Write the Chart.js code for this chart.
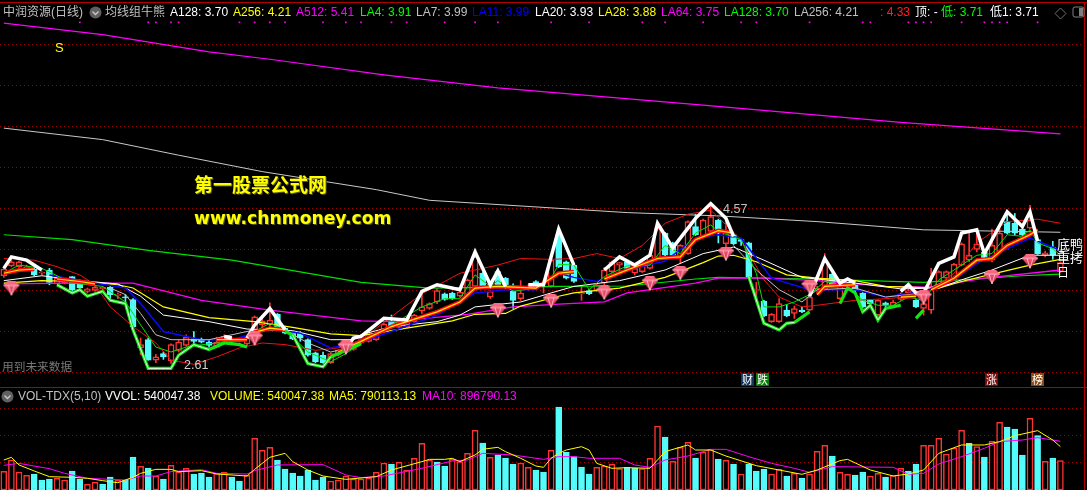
<!DOCTYPE html>
<html>
<head>
<meta charset="utf-8">
<script src="https://cdn.jsdelivr.net/npm/chart.js@4/dist/chart.umd.js"></script>
<style>
html, body { margin: 0; background: #000; overflow: hidden; }
#wrap { position: relative; width: 1087px; height: 490px; }
canvas { position: absolute; left: 0; top: 0; }
.t { position: absolute; white-space: nowrap; font: 12px "Liberation Sans", "Noto Sans CJK SC", sans-serif; line-height: 16px; }
.rule { position: absolute; background: #b00000; }
.badge { position: absolute; top: 373px; width: 13px; height: 13px; color: #fff; font: 11px/13px "Noto Sans CJK SC", sans-serif; text-align: center; }
.wm { position: absolute; color: #ffff00; font-weight: bold; white-space: nowrap; text-shadow: 1px 1px 0 #555500; }
svg { position: absolute; }
</style>
</head>
<body>
<div id="wrap">
<canvas id="chart" width="1087" height="490"></canvas>

<div class="rule" style="left:0;top:2px;width:1087px;height:1px"></div>
<div class="rule" style="left:0;top:387px;width:1087px;height:1px"></div>
<div class="rule" style="left:1084px;top:2px;width:1px;height:488px"></div>

<!-- header of the price panel -->
<div class="t" style="left:3px;top:4px;color:#c0c0c0">中润资源(日线)</div>
<svg style="left:89px;top:6px" width="13" height="13"><circle cx="6.5" cy="6.5" r="6" fill="#606060"/><path d="M3.5 5.5 L6.5 8.5 L9.5 5.5" stroke="#c8c8c8" stroke-width="1.4" fill="none"/></svg>
<div class="t" style="left:105px;top:4px;color:#c0c0c0">均线组牛熊</div>
<div class="t" style="left:170px;top:4px;color:#ffffff">A128: 3.70</div>
<div class="t" style="left:233px;top:4px;color:#ffff00">A256: 4.21</div>
<div class="t" style="left:296px;top:4px;color:#ff00ff">A512: 5.41</div>
<div class="t" style="left:360px;top:4px;color:#00ff00">LA4: 3.91</div>
<div class="t" style="left:416px;top:4px;color:#c0c0c0">LA7: 3.99</div>
<div class="t" style="left:472px;top:4px;color:#0000ff">LA11: 3.99</div>
<div class="t" style="left:535px;top:4px;color:#ffffff">LA20: 3.93</div>
<div class="t" style="left:598px;top:4px;color:#ffff00">LA28: 3.88</div>
<div class="t" style="left:661px;top:4px;color:#ff00ff">LA64: 3.75</div>
<div class="t" style="left:724px;top:4px;color:#00ff00">LA128: 3.70</div>
<div class="t" style="left:794px;top:4px;color:#c0c0c0">LA256: 4.21</div>
<div class="t" style="left:880px;top:4px;color:#ff2020">: 4.33</div>
<div class="t" style="left:915px;top:4px;color:#ffffff">顶: -</div>
<div class="t" style="left:941px;top:4px;color:#00ff00">低: 3.71</div>
<div class="t" style="left:990px;top:4px;color:#ffffff">低1: 3.71</div>
<svg style="left:1054px;top:7px" width="13" height="13"><path d="M6.5 1 L12 6.5 L6.5 12 L1 6.5 Z" stroke="#707070" fill="none"/></svg>
<svg style="left:1072px;top:6px" width="13" height="13"><rect x="1" y="1" width="11" height="10" rx="2" stroke="#808080" fill="none"/><rect x="7" y="2" width="4" height="8" fill="#808080"/></svg>

<div class="t" style="left:55px;top:40px;color:#ffff00;font-size:13px">S</div>
<div class="t" style="left:2px;top:359px;color:#787878;font-size:11.7px">用到未来数据</div>
<div class="t" style="left:184px;top:357px;color:#d0d0d0;font-size:12.5px">2.61</div>
<div class="t" style="left:723px;top:201px;color:#c0c0c0;font-size:12.5px">4.57</div>
<div class="t" style="left:1057px;top:238px;color:#fff;font-size:13px;line-height:13px">底鸭<br>重拷</div>
<div class="t" style="left:1057px;top:265px;color:#fff;font-size:12px">日</div>

<div class="wm" style="left:194px;top:171px;font:bold 19px 'Noto Sans CJK SC',sans-serif;line-height:26px">第一股票公式网</div>
<div class="wm" style="left:194px;top:206px;font:bold 17.2px 'DejaVu Sans',sans-serif;line-height:24px">www.chnmoney.com</div>

<div class="badge" style="left:741px;background:#12365e">财</div>
<div class="badge" style="left:756px;background:#0a7a0a">跌</div>
<div class="badge" style="left:985px;background:#7a0a0a">涨</div>
<div class="badge" style="left:1031px;background:#8a4a10">榜</div>

<!-- header of the volume panel -->
<svg style="left:1px;top:390px" width="13" height="13"><circle cx="6.5" cy="6.5" r="6" fill="#606060"/><path d="M3.5 5.5 L6.5 8.5 L9.5 5.5" stroke="#c8c8c8" stroke-width="1.4" fill="none"/></svg>
<div class="t" style="left:18px;top:388px;color:#c0c0c0">VOL-TDX(5,10)</div>
<div class="t" style="left:105px;top:388px;color:#ffffff">VVOL: 540047.38</div>
<div class="t" style="left:210px;top:388px;color:#ffff00">VOLUME: 540047.38</div>
<div class="t" style="left:329px;top:388px;color:#ffff00">MA5: 790113.13</div>
<div class="t" style="left:422px;top:388px;color:#ff00ff">MA10: 896790.13</div>
</div>

<script>
// one slot per trading day, the last few slots stay empty on the right
const sessions = Array.from({ length: 143 }, (_, i) => i);

const open = [3.68,3.80,3.79,3.76,3.76,3.71,3.75,3.58,3.59,3.67,3.62,3.49,3.50,3.52,3.54,3.44,3.42,3.39,2.80,2.90,
  2.65,2.73,2.64,2.77,2.83,2.91,2.90,2.87,2.81,2.92,2.91,2.88,2.85,3.02,3.08,3.09,3.21,3.04,2.99,2.98,
  2.90,2.74,2.71,2.62,2.71,2.76,2.78,2.86,2.88,2.90,3.00,3.12,3.05,3.06,3.12,3.25,3.28,3.36,3.46,3.47,
  3.43,3.43,3.55,3.71,3.42,3.73,3.65,3.49,3.40,3.53,3.61,3.54,3.55,4.18,3.85,3.81,3.46,3.50,3.50,3.59,
  3.73,3.81,3.85,3.71,3.73,3.77,3.89,4.20,4.08,3.91,3.95,4.28,4.16,4.22,4.36,4.07,4.18,4.12,4.08,3.50,
  3.37,3.12,3.12,3.26,3.22,3.26,3.26,3.50,3.51,3.70,3.40,3.55,3.57,3.47,3.38,3.20,3.35,3.30,3.39,3.47,
  3.38,3.28,3.26,3.55,3.65,3.63,3.81,3.87,4.00,3.97,3.87,3.97,4.34,4.32,4.25,4.26,4.12,3.93,4.03,3.73];
const close = [3.76,3.85,3.85,3.79,3.69,3.71,3.60,3.65,3.65,3.51,3.53,3.52,3.54,3.54,3.45,3.44,3.41,3.06,2.84,2.65,
  2.69,2.69,2.84,2.87,2.93,2.88,2.87,2.83,2.87,2.94,2.88,2.90,2.92,3.18,3.13,3.14,3.06,2.98,2.91,2.92,
  2.71,2.63,2.62,2.73,2.77,2.82,2.84,2.90,2.93,2.96,3.09,3.06,3.12,3.16,3.20,3.30,3.34,3.50,3.39,3.40,
  3.48,3.63,3.91,3.55,3.49,3.55,3.53,3.38,3.47,3.55,3.55,3.54,3.87,3.79,3.65,3.61,3.46,3.46,3.57,3.75,
  3.85,3.84,3.77,3.77,3.81,3.93,4.26,3.93,3.93,4.05,4.34,4.18,4.36,4.40,4.20,4.22,4.07,4.10,3.67,3.50,
  3.19,3.21,3.34,3.19,3.28,3.24,3.42,3.53,3.85,3.57,3.56,3.57,3.50,3.30,3.34,3.38,3.32,3.36,3.46,3.50,
  3.30,3.34,3.55,3.73,3.73,3.82,4.07,3.93,4.07,3.89,4.05,4.20,4.20,4.20,4.18,4.36,3.95,3.96,3.93,3.84];
const high = [3.78,3.87,3.86,3.81,3.78,3.73,3.77,3.66,3.66,3.67,3.63,3.53,3.55,3.55,3.56,3.47,3.45,3.40,2.92,2.92,
  2.72,2.75,2.85,2.89,2.96,3.00,2.92,2.90,2.93,2.96,2.92,2.92,2.93,3.19,3.15,3.35,3.22,3.05,3.00,3.00,
  2.91,2.75,2.75,2.74,2.78,2.84,2.85,2.91,2.94,2.97,3.10,3.20,3.13,3.17,3.21,3.49,3.35,3.52,3.47,3.48,
  3.49,3.64,3.93,3.72,3.50,3.74,3.66,3.58,3.62,3.57,3.62,3.62,3.89,4.25,3.86,3.82,3.55,3.51,3.58,3.78,
  3.86,3.84,3.86,3.79,3.82,3.95,4.28,4.21,4.09,4.06,4.35,4.43,4.37,4.57,4.37,4.40,4.19,4.12,4.09,3.60,
  3.38,3.22,3.40,3.33,3.31,3.30,3.44,3.55,3.95,3.71,3.58,3.60,3.58,3.48,3.39,3.39,3.36,3.38,3.47,3.52,
  3.39,3.46,3.77,3.74,3.74,3.83,4.08,4.20,4.23,3.98,4.25,4.30,4.48,4.44,4.26,4.54,4.13,3.98,4.10,3.85];
const low = [3.66,3.79,3.78,3.75,3.68,3.69,3.57,3.58,3.58,3.49,3.52,3.47,3.49,3.51,3.38,3.40,3.35,3.05,2.72,2.65,
  2.62,2.66,2.61,2.75,2.82,2.86,2.86,2.81,2.80,2.89,2.87,2.87,2.83,2.85,3.05,3.05,3.04,2.97,2.90,2.88,
  2.70,2.62,2.61,2.61,2.70,2.74,2.77,2.85,2.87,2.89,2.99,3.04,3.04,3.05,3.11,3.22,3.27,3.34,3.38,3.39,
  3.42,3.42,3.53,3.54,3.40,3.54,3.52,3.28,3.38,3.50,3.54,3.47,3.54,3.78,3.64,3.60,3.38,3.45,3.49,3.42,
  3.72,3.70,3.76,3.69,3.72,3.76,3.88,3.92,3.92,3.83,3.94,4.17,4.15,4.20,4.08,4.00,4.06,4.05,3.66,3.36,
  3.18,3.11,3.11,3.18,3.16,3.23,3.25,3.48,3.50,3.56,3.39,3.53,3.48,3.29,3.31,3.19,3.30,3.29,3.38,3.45,
  3.29,3.20,3.22,3.54,3.63,3.62,3.80,3.85,3.97,3.87,3.85,3.95,4.19,4.18,4.17,4.25,3.94,3.91,3.88,3.72];

// volume in thousands, 1 = red (up) bar, 0 = cyan bar
const volume = [342,549,329,268,293,183,201,214,183,348,201,104,140,110,238,177,177,604,433,403,
  256,201,451,329,397,293,311,238,305,323,238,165,268,946,726,781,549,384,311,256,
  366,183,238,165,183,256,201,201,220,323,494,476,506,366,580,854,549,512,439,561,
  519,671,1092,860,598,641,586,476,494,415,366,329,726,1519,689,610,421,293,415,439,
  470,390,415,403,390,580,1171,970,525,781,872,586,695,744,567,543,476,293,476,348,
  384,293,378,256,305,220,293,708,817,622,323,287,275,329,256,305,238,262,397,348,
  476,817,817,946,659,769,1092,854,793,604,891,1238,1153,1116,641,1312,994,525,586,540];
const volumeUp = [1,1,1,1,0,0,0,1,1,0,0,1,1,0,0,1,0,0,1,0,
  1,0,1,1,1,0,0,0,1,1,0,0,1,1,1,1,0,0,0,0,
  0,0,0,1,1,1,1,1,1,1,1,0,1,1,1,1,1,0,0,1,
  1,1,1,0,1,0,0,0,1,1,0,0,1,0,0,0,0,0,1,1,
  1,1,0,0,1,1,1,0,1,1,1,0,1,1,0,1,0,1,0,0,
  0,1,1,0,1,0,1,1,1,0,1,1,0,0,1,1,0,1,1,0,
  0,1,1,1,1,1,1,0,1,0,1,1,0,0,0,1,0,1,0,1];

// lines are read at their turning points as [session, value], null breaks a line
const ma5 = [[0,549],[1,598],[2,458],[4,348],[6,244],[9,232],[11,214],[13,171],[15,134],[17,232],[18,305],[20,378],[22,378],[23,336],[26,354],[28,293],[32,256],[33,378],[35,598],[37,671],[38,519],[40,366],[42,256],[45,195],[48,232],[49,244],[51,366],[55,519],[56,561],[58,561],[59,580],[60,519],[62,641],[63,745],[65,781],[66,702],[68,580],[70,439],[71,415],[72,580],[73,671],[74,732],[76,793],[77,732],[78,488],[80,397],[82,409],[85,397],[87,702],[90,824],[91,732],[93,732],[95,622],[99,445],[102,366],[105,287],[107,366],[110,537],[111,561],[114,366],[117,256],[119,293],[121,366],[123,671],[126,824],[129,824],[131,885],[133,994],[136,1086],[138,915],[139,793]];
const ma10 = [[0,451],[2,488],[6,390],[8,305],[11,214],[16,183],[18,256],[20,256],[22,336],[26,372],[28,305],[32,293],[33,354],[36,458],[42,464],[45,275],[47,226],[50,256],[55,397],[59,531],[61,549],[63,671],[67,641],[71,561],[73,610],[75,610],[77,580],[80,580],[81,580],[83,458],[85,415],[87,549],[90,622],[92,702],[93,744],[95,744],[98,610],[101,488],[104,397],[106,323],[109,427],[117,415],[119,287],[121,305],[123,476],[126,610],[129,763],[131,885],[134,915],[136,958],[138,915],[139,891]];

const a512 = [[0,6.76],[13,6.62],[27,6.41],[35,6.32],[50,6.13],[65,5.97],[92,5.76],[118,5.55],[139,5.41]];
const a256 = [[0,5.48],[13,5.34],[23,5.15],[34,4.95],[49,4.73],[56,4.60],[82,4.45],[94,4.41],[107,4.34],[121,4.24],[139,4.21]];
const a128 = [[0,4.18],[9,4.12],[19,3.99],[30,3.87],[47,3.60],[56,3.53],[73,3.55],[82,3.555],[91,3.64],[94,3.66],[107,3.64],[121,3.60],[134,3.68],[139,3.70]];
const la64 = [[0,3.58],[9,3.59],[17,3.59],[26,3.38],[35,3.26],[47,3.13],[51,3.12],[61,3.21],[67,3.30],[73,3.335],[79,3.36],[82,3.47],[91,3.59],[94,3.65],[100,3.65],[107,3.62],[116,3.55],[122,3.54],[129,3.65],[139,3.75]];
const la28 = [[0,3.59],[5,3.62],[10,3.61],[15,3.57],[17,3.53],[21,3.30],[27,3.17],[33,3.12],[38,3.05],[43,2.97],[47,2.95],[53,3.04],[59,3.13],[62,3.21],[66,3.22],[68,3.31],[73,3.43],[75,3.47],[81,3.53],[87,3.66],[92,3.84],[94,3.92],[96,3.93],[99,3.85],[103,3.69],[107,3.65],[112,3.62],[116,3.55],[123,3.53],[126,3.61],[130,3.70],[135,3.81],[139,3.88]];
const la20 = [[0,3.62],[5,3.68],[10,3.62],[15,3.58],[18,3.43],[21,3.20],[27,3.12],[32,3.03],[38,3.01],[43,2.90],[46,2.90],[47,2.96],[51,3.06],[57,3.12],[60,3.20],[62,3.30],[68,3.36],[72,3.47],[75,3.55],[81,3.62],[87,3.75],[92,3.95],[94,3.99],[96,4.03],[100,3.87],[105,3.66],[112,3.59],[118,3.52],[123,3.53],[126,3.63],[130,3.75],[135,3.93],[139,3.93]];
const la11 = [[6,3.69],[12,3.59],[16,3.53],[18,3.34],[21,3.00],[26,2.90],[30,2.90],[35,3.03],[39,2.98],[43,2.80],[47,2.87],[51,3.00],[57,3.20],[62,3.47],[66,3.51],[70,3.51],[73,3.71],[75,3.66],[78,3.61],[82,3.75],[87,3.86],[91,4.14],[94,4.18],[97,4.14],[101,3.65],[106,3.51],[112,3.51],[116,3.42],[121,3.49],[125,3.63],[128,3.83],[135,4.14],[139,3.99]];
const la7 = [[14,3.53],[16,3.45],[18,3.22],[20,2.96],[22,2.90],[27,2.90],[33,3.02],[37,3.02],[40,2.86],[43,2.75],[46,2.81],[47,null],[96,4.05],[99,3.75],[102,3.51],[105,3.36],[107,3.51],[112,3.53],[116,3.42],[120,3.46],[124,3.62]];
const la4 = [[0,3.71],[2,3.81],[5,3.77],[9,3.59],[13,3.55],[16,3.36],[18,3.08],[20,2.81],[22,2.75],[24,2.81],[27,2.85],[31,2.88],[33,3.00],[35,3.10],[37,3.02],[40,2.75],[43,2.63],[45,2.73],[47,2.86],[51,3.08],[55,3.30],[58,3.40],[60,3.40],[62,3.69],[64,3.55],[65,3.62],[67,3.49],[70,3.53],[72,3.65],[73,3.82],[75,3.81],[77,3.51],[79,3.67],[82,3.80],[85,3.81],[87,4.05],[89,3.95],[91,4.20],[93,4.30],[94,4.22],[97,4.12],[99,3.71],[100,3.30],[102,3.30],[104,3.36],[106,3.45],[108,3.61],[111,3.55],[113,3.38],[115,3.32],[117,3.32],[119,3.42],[121,3.38],[123,3.63],[126,3.81],[128,3.93],[130,3.95],[132,4.18],[134,4.16],[135,4.24],[136,4.08],[138,4.01],[139,3.93]];
const redLine = [[0,3.89],[4,3.87],[7,3.79],[10,3.69],[12,3.57],[14,3.30],[17,3.06],[20,2.86],[22,2.65],[25,2.60],[28,2.69],[31,2.80],[34,2.86],[37,2.84],[41,2.77],[44,2.80],[47,2.90],[55,3.46],[60,3.71],[65,3.81],[68,3.89],[72,3.88],[75,3.89],[78,3.95],[81,3.89],[84,4.05],[87,4.32],[90,4.43],[93,4.48],[97,4.12],[100,3.63],[102,3.42],[105,3.30],[107,3.32],[112,3.38],[116,3.40],[120,3.43],[122,3.51],[125,3.71],[128,4.08],[132,4.34],[136,4.37],[139,4.32]];
const band = [[0,3.71],[2,3.75],[4,3.76],[5,null],[7,3.64],[10,3.61],[12,3.58],[13,null],[28,2.90],[32,2.90],[33,null],[33,2.99],[35,3.04],[37,3.02],[38,null],[44,2.75],[47,2.88],[51,3.06],[57,3.24],[60,3.36],[62,3.53],[65,3.55],[70,3.53],[73,3.71],[75,3.73],[76,null],[79,3.64],[82,3.75],[86,3.89],[89,3.91],[91,4.12],[94,4.23],[96,4.20],[97,null],[107,3.45],[108,3.55],[112,3.57],[113,null],[118,3.42],[120,3.43],[121,null],[122,3.51],[125,3.65],[128,3.87],[130,3.89],[132,4.05],[135,4.18],[136,4.24]];
const upperEdge = [[0,3.77],[1,3.91],[3,3.87],[5,3.75],[6,null],[29,2.94],[30,2.92],[31,null],[32,2.92],[33,3.08],[35,3.28],[37,3.02],[38,null],[45,2.79],[46,2.92],[47,2.94],[50,3.16],[53,3.14],[55,3.49],[57,3.57],[60,3.51],[62,3.97],[64,3.57],[65,3.74],[66,3.55],[67,null],[69,3.57],[71,3.57],[73,4.25],[75,3.81],[76,null],[79,3.75],[81,3.91],[83,3.81],[85,3.93],[86,4.32],[88,4.02],[91,4.38],[93,4.56],[95,4.38],[96,4.16],[97,null],[106,3.43],[108,3.89],[110,3.59],[111,3.64],[112,3.59],[113,null],[118,3.49],[119,3.57],[120,3.47],[121,3.47],[123,3.83],[125,3.91],[126,4.20],[128,4.24],[129,3.95],[132,4.46],[134,4.28],[135,4.46],[136,4.10]];
const lowerEdge = [[7,3.57],[9,3.47],[10,3.51],[11,3.43],[13,3.49],[14,3.38],[16,3.34],[17,3.02],[19,2.55],[22,2.55],[23,2.71],[25,2.84],[27,2.78],[29,2.86],[31,2.84],[32,2.81],[33,null],[37,3.00],[38,2.96],[40,2.61],[42,2.57],[43,2.69],[45,2.77],[47,2.85],[48,null],[98,3.67],[100,3.10],[102,3.02],[103,3.10],[104,3.11],[106,3.24],[107,null],[110,3.34],[111,3.53],[112,3.47],[113,3.24],[114,3.32],[115,3.14],[116,3.28],[118,3.32],[119,null],[120,3.16],[121,3.26]];
// pale core that the lower edge shows on its thin stretches
const lowerCore = [[7,3.57],[9,3.47],[10,3.51],[11,3.43],[13,3.49],[14,3.38],[16,3.34],[17,3.02],[19,2.55],[22,2.55],[23,2.71],[25,2.84],[27,2.78],[28,null],[38,2.96],[40,2.61],[42,2.57],[43,2.69],[44,null],[98,3.67],[100,3.10],[102,3.02],[103,3.10],[104,3.11],[105,null],[113,3.24],[114,3.32],[115,3.14],[116,3.28]];

const gems = [[1,3.52],[33,2.91],[45,2.80],[65,3.25],[72,3.37],[79,3.47],[85,3.58],[89,3.71],[95,3.945],[106,3.54],[121,3.41],[130,3.66],[135,3.85]];
const topDots = [10,19,20,22,23,31,33,35,37,42,45,47,51,53,58,62,65,72,77,84,87,92,97,99,106,113,114,119,120,121,122,126,129,130,131,132,136];

const priceTicks = [2.5, 3, 3.5, 4, 4.5, 5, 5.5, 6, 6.5];
const volumeTicks = [500, 1000, 1500];

const RED = '#ff3232';
const CYAN = '#54fcfc';

const xy = (pts) => pts.map(([x, y]) => ({ x, y }));

function priceLine(pts, color, width) {
    return { type: 'line', data: xy(pts), yAxisID: 'price', borderColor: color, borderWidth: width, pointRadius: 0, tension: 0, spanGaps: false };
}
function volumeLine(pts, color) {
    return { type: 'line', data: xy(pts), yAxisID: 'volume', borderColor: color, borderWidth: 1, pointRadius: 0, tension: 0 };
}

// small ruby marker
function makeGem() {
    const c = document.createElement('canvas');
    c.width = 18;
    c.height = 15;
    const g = c.getContext('2d');
    const grad = g.createLinearGradient(0, 0, 0, 15);
    grad.addColorStop(0, '#ff7088');
    grad.addColorStop(1, '#c81c3c');
    g.fillStyle = grad;
    g.beginPath();
    g.moveTo(1, 4); g.lineTo(5, 0); g.lineTo(13, 0); g.lineTo(17, 4); g.lineTo(9, 14); g.closePath();
    g.fill();
    g.strokeStyle = '#ffb8c4';
    g.lineWidth = 1;
    g.beginPath();
    g.moveTo(1, 4); g.lineTo(17, 4); g.moveTo(6, 4); g.lineTo(9, 14); g.lineTo(12, 4);
    g.stroke();
    return c;
}

const isUp = open.map((o, i) => close[i] >= o);

new Chart(document.getElementById('chart').getContext('2d'), {
    data: {
        labels: sessions,
        // the first dataset ends up on top
        datasets: [
            { type: 'line', data: xy(gems), yAxisID: 'price', showLine: false, pointStyle: makeGem(), pointRadius: 8 },
            { type: 'line', data: topDots.map((x) => ({ x, y: 6.77 })), yAxisID: 'price', showLine: false, pointStyle: 'rect', pointRadius: 1.2, pointBackgroundColor: '#ff00ff', pointBorderWidth: 0 },
            priceLine(upperEdge, '#ffffff', 3.5),
            priceLine(lowerCore, '#e8ffe8', 1),
            priceLine(lowerEdge, '#14e614', 3.2),
            priceLine(band, '#ffe800', 1.2),
            priceLine(band, '#ff0808', 4),
            priceLine(la4, '#00e000', 1),
            priceLine(la7, '#c0c0c0', 1),
            priceLine(la11, '#0808ff', 1.5),
            priceLine(la20, '#ffffff', 1),
            priceLine(la28, '#ffff00', 1.2),
            priceLine(la64, '#ff00ff', 1.3),
            priceLine(redLine, '#f01010', 1),
            priceLine(a128, '#00e000', 1.2),
            priceLine(a256, '#c8c8c8', 1),
            priceLine(a512, '#ff00ff', 1.2),
            volumeLine(ma5, '#ffff00'),
            volumeLine(ma10, '#ff00ff'),
            // candle bodies above their wicks
            {
                type: 'bar', yAxisID: 'price', grouped: false, barThickness: 6, minBarLength: 1, borderSkipped: false, borderWidth: 1.5,
                data: open.map((o, i) => [o, close[i]]),
                borderColor: isUp.map((u) => (u ? RED : CYAN)),
                backgroundColor: isUp.map((u) => (u ? '#000000' : CYAN))
            },
            {
                type: 'bar', yAxisID: 'price', grouped: false, barThickness: 1, borderWidth: 0,
                data: low.map((l, i) => [l, high[i]]),
                backgroundColor: isUp.map((u) => (u ? RED : CYAN))
            },
            {
                type: 'bar', yAxisID: 'volume', grouped: false, barThickness: 6, borderSkipped: false, borderWidth: 1.5,
                data: volume,
                borderColor: volumeUp.map((u) => (u ? RED : CYAN)),
                backgroundColor: volumeUp.map((u) => (u ? '#000000' : CYAN))
            }
        ]
    },
    options: {
        responsive: false,
        animation: false,
        events: [],
        layout: { padding: 0, autoPadding: false },
        plugins: { legend: { display: false }, tooltip: { enabled: false } },
        scales: {
            x: { type: 'category', display: false, offset: true },
            price: {
                position: 'left',
                min: 1.067,
                max: 7.0427,
                afterBuildTicks: (scale) => { scale.ticks = priceTicks.map((value) => ({ value })); },
                ticks: { display: false },
                grid: { color: '#a00000', drawTicks: false },
                border: { display: false, dash: [1, 3] }
            },
            volume: {
                position: 'right',
                min: 0,
                max: 8967,
                afterBuildTicks: (scale) => { scale.ticks = volumeTicks.map((value) => ({ value })); },
                ticks: { display: false },
                grid: { color: '#a00000', drawTicks: false },
                border: { display: false, dash: [1, 3] }
            }
        }
    }
});
</script>
</body>
</html>
